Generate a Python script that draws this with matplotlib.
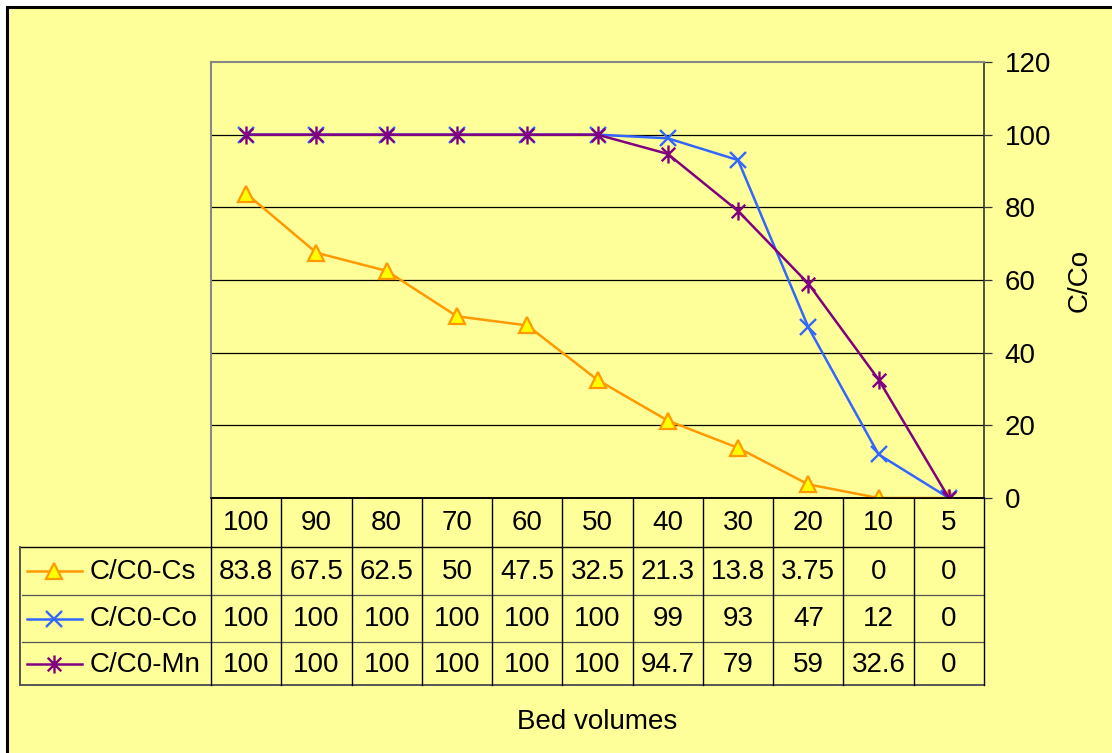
import matplotlib
matplotlib.use("Agg")
import matplotlib.pyplot as plt
from matplotlib.patches import Rectangle
from matplotlib.path import Path

plt.rcParams['font.family'] = ['Liberation Sans', 'DejaVu Sans']

bed_volumes = ['100', '90', '80', '70', '60', '50', '40', '30', '20', '10', '5']
cs = [83.8, 67.5, 62.5, 50, 47.5, 32.5, 21.3, 13.8, 3.75, 0, 0]
co = [100, 100, 100, 100, 100, 100, 99, 93, 47, 12, 0]
mn = [100, 100, 100, 100, 100, 100, 94.7, 79, 59, 32.6, 0]
series_names = ['C/C0-Cs', 'C/C0-Co', 'C/C0-Mn']

# excel style asterisk: an x with a vertical bar through it
star = Path([(0, -1), (0, 1), (-0.75, -0.75), (0.75, 0.75), (-0.75, 0.75), (0.75, -0.75)],
            [Path.MOVETO, Path.LINETO, Path.MOVETO, Path.LINETO, Path.MOVETO, Path.LINETO])

styles = [
    dict(color='#FF9900', marker='^', mfc='#FFFF00', mec='#FF9900', ms=11, mew=1.6),
    dict(color='#3366FF', marker='x', mfc='none', mec='#3366FF', ms=11, mew=1.7),
    dict(color='#800080', marker=star, mfc='none', mec='#800080', ms=13, mew=1.7),
]
FS = 20

W, H = 1112, 753
fig = plt.figure(figsize=(W / 100, H / 100), dpi=100)
fig.patch.set_facecolor('white')

# pixel-space canvas for background, table and labels
bg = fig.add_axes([0, 0, 1, 1])
bg.set_xlim(0, W)
bg.set_ylim(H, 0)
bg.axis('off')
bg.add_patch(Rectangle((7, 7), W + 10, H + 10, facecolor='#FFFF99', edgecolor='black', lw=2.2))

left, right, top, bottom = 211, 984, 62, 498
ax = fig.add_axes([left / W, 1 - bottom / H, (right - left) / W, (bottom - top) / H])
ax.set_facecolor('none')

n = len(bed_volumes)
x = list(range(n))
for vals, st in zip([cs, co, mn], styles):
    ax.plot(x, vals, lw=1.8, **st)

ax.set_xlim(-0.5, n - 0.5)
ax.set_ylim(0, 120)
ax.set_yticks(range(0, 121, 20))
ax.set_xticks([])
for y in range(20, 101, 20):
    ax.axhline(y, color='black', lw=0.9, zorder=0)
ax.yaxis.tick_right()
ax.tick_params(axis='y', direction='out', length=6, width=0.9, pad=9, labelsize=FS, color='#333333')
for s in ['top', 'left']:
    ax.spines[s].set_color('#888888')
    ax.spines[s].set_linewidth(1.5)
ax.spines['right'].set_color('#333333')
ax.spines['right'].set_linewidth(1.2)
ax.spines['bottom'].set_color('black')
ax.spines['bottom'].set_linewidth(1.2)

# data table below the plot
rows = [498, 547, 595, 642, 685]
tleft = 20
colw = (right - left) / n
bg.plot([left, right], [rows[0], rows[0]], color='black', lw=1.2)
bg.plot([tleft, right], [rows[1], rows[1]], color='black', lw=1)
for r in rows[2:4]:
    bg.plot([tleft + 2, right], [r, r], color='#555555', lw=0.9)
bg.plot([tleft, right], [rows[4], rows[4]], color='#555555', lw=1.4)
bg.plot([tleft, tleft], [rows[1], rows[4]], color='#555555', lw=1.4)
for i in range(n + 1):
    bg.plot([left + i * colw] * 2, [rows[0], rows[4]], color='black', lw=1)

for i, lab in enumerate(bed_volumes):
    bg.text(left + (i + 0.5) * colw, (rows[0] + rows[1]) / 2, lab,
            ha='center', va='center', fontsize=FS)

for k, (vals, name, st) in enumerate(zip([cs, co, mn], series_names, styles)):
    yc = (rows[k + 1] + rows[k + 2]) / 2
    bg.plot([27, 82], [yc, yc], lw=1.8, color=st['color'])
    bg.plot([54], [yc], linestyle='none', **{k2: v for k2, v in st.items() if k2 != 'color'})
    bg.text(90, yc + 1, name, ha='left', va='center', fontsize=FS)
    for i, v in enumerate(vals):
        bg.text(left + (i + 0.5) * colw, yc + 1, f'{v:g}', ha='center', va='center', fontsize=FS)

bg.text(1080, 280, 'C/Co', rotation=90, ha='center', va='center', fontsize=FS)
bg.text(597, 722, 'Bed volumes', ha='center', va='center', fontsize=FS)

fig.savefig('out.png', dpi=100)
